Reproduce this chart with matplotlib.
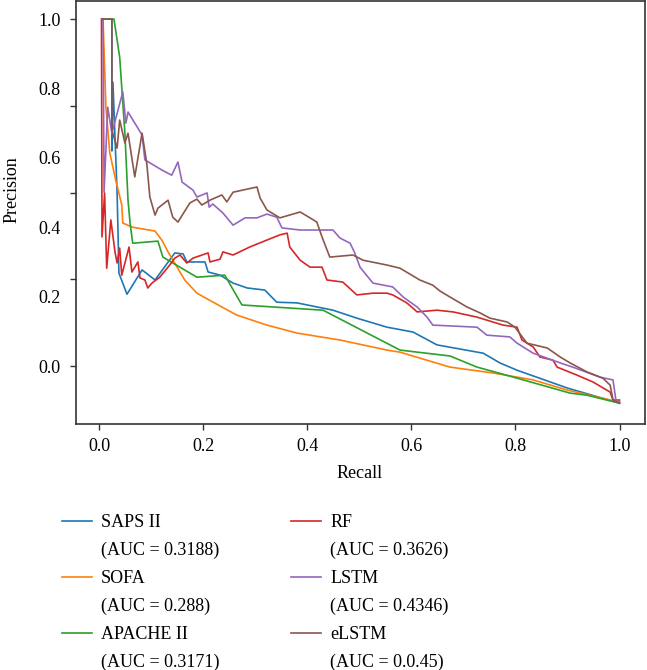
import matplotlib
matplotlib.use("Agg")
import matplotlib.pyplot as plt
from matplotlib.lines import Line2D
from matplotlib.ticker import FixedLocator, FixedFormatter

plt.rcParams["font.family"] = ["Liberation Serif", "DejaVu Serif"]
plt.rcParams["font.size"] = 13

# ---------- data ----------
saps_r = [0.024, 0.024, 0.026, 0.034, 0.036, 0.0375, 0.053, 0.082, 0.107, 0.145, 0.161,
          0.168, 0.203, 0.209, 0.232, 0.257, 0.284, 0.318, 0.341, 0.38, 0.449, 0.495,
          0.553, 0.603, 0.649, 0.738, 0.77, 0.803, 0.899, 1.0]
saps_p = [1.0, 0.62, 0.818, 0.499, 0.372, 0.268, 0.207, 0.277, 0.248, 0.326, 0.323,
          0.30, 0.30, 0.271, 0.262, 0.239, 0.225, 0.219, 0.184, 0.182, 0.161, 0.138,
          0.112, 0.098, 0.061, 0.037, 0.009, -0.012, -0.063, -0.107]

sofa_r = [0.007, 0.0125, 0.020, 0.030, 0.043, 0.045, 0.064, 0.107, 0.12, 0.132, 0.164,
          0.1875, 0.232, 0.264, 0.322, 0.38, 0.4625, 0.553, 0.578, 0.674, 0.757, 0.834,
          0.899, 1.0]
sofa_p = [1.0, 0.746, 0.614, 0.545, 0.464, 0.412, 0.40, 0.389, 0.363, 0.329, 0.248,
          0.21, 0.173, 0.147, 0.118, 0.095, 0.075, 0.046, 0.040, -0.003, -0.02, -0.04,
          -0.069, -0.104]

apache_r = [0.005, 0.028, 0.039, 0.049, 0.055, 0.059, 0.064, 0.1125, 0.122, 0.1875, 0.241,
            0.274, 0.43, 0.578, 0.674, 0.726, 0.789, 0.905, 0.9375, 1.0]
apache_p = [1.0, 1.0, 0.89, 0.671, 0.478, 0.412, 0.354, 0.360, 0.314, 0.256, 0.262,
            0.176, 0.161, 0.046, 0.029, -0.003, -0.029, -0.078, -0.084, -0.107]

rf_r = [0.004, 0.005, 0.010, 0.014, 0.022, 0.030, 0.034, 0.039, 0.043, 0.057, 0.0625,
        0.074, 0.078, 0.0875, 0.093, 0.101, 0.116, 0.132, 0.145, 0.155, 0.168, 0.18,
        0.209, 0.2125, 0.232, 0.2375, 0.257, 0.289, 0.322, 0.347, 0.361, 0.366, 0.386,
        0.405, 0.428, 0.4375, 0.468, 0.495, 0.526, 0.553, 0.564, 0.591, 0.611, 0.649,
        0.68, 0.726, 0.776, 0.803, 0.8125, 0.834, 0.847, 0.872, 0.88, 0.918, 0.949,
        0.982, 0.9875, 1.0]
rf_p = [1.0, 0.372, 0.499, 0.282, 0.421, 0.329, 0.297, 0.34, 0.262, 0.343, 0.271,
        0.30, 0.254, 0.248, 0.225, 0.239, 0.256, 0.285, 0.311, 0.32, 0.297, 0.311,
        0.326, 0.30, 0.308, 0.329, 0.32, 0.343, 0.363, 0.378, 0.383, 0.343, 0.305,
        0.285, 0.285, 0.248, 0.242, 0.205, 0.21, 0.21, 0.205, 0.182, 0.156, 0.161,
        0.156, 0.141, 0.118, 0.112, 0.075, 0.055, 0.026, 0.017, -0.003, -0.026, -0.046,
        -0.075, -0.098, -0.098]

lstm_r = [0.007, 0.009, 0.016, 0.024, 0.045, 0.051, 0.055, 0.082, 0.0875, 0.12, 0.139,
          0.151, 0.159, 0.18, 0.1875, 0.207, 0.211, 0.218, 0.2375, 0.257, 0.28, 0.303,
          0.322, 0.341, 0.351, 0.386, 0.449, 0.4625, 0.482, 0.491, 0.501, 0.526, 0.564,
          0.584, 0.611, 0.63, 0.641, 0.726, 0.745, 0.789, 0.803, 0.834, 0.886, 0.91,
          0.9625, 0.9875, 0.993, 1.0]
lstm_p = [1.0, 0.501, 0.746, 0.671, 0.79, 0.70, 0.732, 0.666, 0.594, 0.565, 0.55,
          0.588, 0.53, 0.507, 0.487, 0.499, 0.458, 0.467, 0.441, 0.406, 0.427, 0.427,
          0.438, 0.429, 0.398, 0.392, 0.392, 0.369, 0.354, 0.326, 0.285, 0.239, 0.228,
          0.199, 0.17, 0.141, 0.118, 0.112, 0.089, 0.084, 0.066, 0.037, 0.009, -0.003,
          -0.032, -0.04, -0.098, -0.104]

elstm_r = [0.005, 0.024, 0.024, 0.034, 0.039, 0.049, 0.055, 0.068, 0.082, 0.091, 0.097,
           0.107, 0.1125, 0.132, 0.141, 0.151, 0.174, 0.1875, 0.197, 0.2125, 0.2355,
           0.245, 0.257, 0.303, 0.309, 0.322, 0.347, 0.386, 0.405, 0.418, 0.428, 0.443,
           0.4875, 0.507, 0.553, 0.578, 0.616, 0.641, 0.655, 0.674, 0.707, 0.732, 0.751,
           0.784, 0.799, 0.822, 0.861, 0.886, 0.905, 0.9375, 0.968, 0.982, 0.9875, 1.0]
elstm_p = [1.0, 1.0, 0.68, 0.628, 0.709, 0.643, 0.671, 0.545, 0.671, 0.585, 0.487,
           0.435, 0.455, 0.478, 0.429, 0.415, 0.47, 0.481, 0.464, 0.478, 0.493,
           0.473, 0.501, 0.516, 0.484, 0.45, 0.427, 0.444, 0.427, 0.415, 0.372, 0.314,
           0.32, 0.305, 0.291, 0.282, 0.248, 0.233, 0.216, 0.199, 0.17, 0.153, 0.138,
           0.127, 0.112, 0.066, 0.052, 0.026, 0.009, -0.017, -0.035, -0.055, -0.098, -0.107]

curves = [
    ("SAPS II", "(AUC = 0.3188)", saps_r, saps_p),
    ("SOFA", "(AUC = 0.288)", sofa_r, sofa_p),
    ("APACHE II", "(AUC = 0.3171)", apache_r, apache_p),
    ("RF", "(AUC = 0.3626)", rf_r, rf_p),
    ("LSTM", "(AUC = 0.4346)", lstm_r, lstm_p),
    ("eLSTM", "(AUC = 0.0.45)", elstm_r, elstm_p),
]
colors = ["#1f77b4", "#ff7f0e", "#2ca02c", "#d62728", "#9467bd", "#8c564b"]

x_ticks = [0.0, 0.2, 0.4, 0.6, 0.8, 1.0]
y_tick_marks = [0.0, 0.25, 0.5, 0.75, 1.0]
y_tick_labels = [0.0, 0.2, 0.4, 0.6, 0.8, 1.0]

# ---------- figure ----------
fig = plt.figure(figsize=(6.47, 6.70), dpi=100)
ax = fig.add_axes([76 / 647, 1 - 424 / 670, 569 / 647, 423 / 670])

for (name, auc, r, p), c in zip(curves, colors):
    ax.plot(r, p, color=c, linewidth=1.2)

ax.set_xlim(-0.045, 1.049)
ax.set_ylim(-0.167, 1.052)

ax.set_xticks(x_ticks)
ax.set_xticklabels([f"{v:.1f}" for v in x_ticks])
ax.tick_params(axis="x", length=4, width=1.0, color="#333333", pad=6, labelsize=13)

# tick marks and tick labels sit at different places in the reference
ax.yaxis.remove_overlapping_locs = False
ax.yaxis.set_major_locator(FixedLocator(y_tick_marks))
ax.yaxis.set_major_formatter(FixedFormatter([""] * len(y_tick_marks)))
ax.yaxis.set_minor_locator(FixedLocator(y_tick_labels))
ax.yaxis.set_minor_formatter(FixedFormatter([f"{v:.1f}" for v in y_tick_labels]))
ax.tick_params(axis="y", which="major", length=4, width=1.0, color="#333333")
ax.tick_params(axis="y", which="minor", length=0, pad=11, labelsize=13)

for s in ax.spines.values():
    s.set_color("#333333")
    s.set_linewidth(1.2)

ax.text(-0.1125, 0.553, "Precision", rotation=90, ha="center", va="center",
        transform=ax.transAxes, fontsize=13)
ax.text(0.499, -0.116, "Recall", ha="center", va="center",
        transform=ax.transAxes, fontsize=13)

# legend: two columns, name on first line (with handle), AUC on second line
for col, x0 in enumerate([62 / 647, 291 / 647]):
    handles, labels = [], []
    for k in range(3):
        name, auc, _, _ = curves[col * 3 + k]
        handles.append(Line2D([], [], color=colors[col * 3 + k], linewidth=1.2))
        labels.append(name)
        handles.append(Line2D([], [], color="none"))
        labels.append(auc)
    fig.legend(handles, labels, loc="upper left", bbox_to_anchor=(x0, 1 - 514 / 670),
               frameon=False, borderpad=0, borderaxespad=0, handlelength=1.67,
               handletextpad=0.5, labelspacing=0.6, fontsize=13)

fig.savefig("out.png", dpi=100)
